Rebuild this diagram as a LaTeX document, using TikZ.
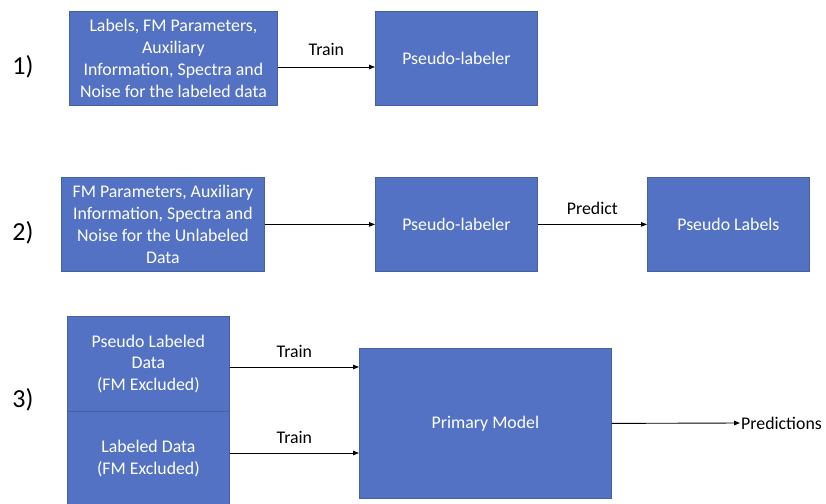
\documentclass[tikz,border=0pt]{standalone}
\usepackage{fontspec}
\setmainfont{Carlito}
\usetikzlibrary{arrows.meta}
\definecolor{boxfill}{RGB}{84,114,196}
\definecolor{boxline}{RGB}{70,96,160}
\tikzset{
  box/.style={draw=boxline, line width=0.8pt, fill=boxfill, text=white, align=center,
    anchor=north west, inner sep=0pt, font=\fontsize{17.8}{21.8}\selectfont},
  arr/.style={draw=black, line width=0.9pt, -{Triangle[length=6pt,width=4.5pt]}},
  lbl/.style={font=\fontsize{17.8}{21}\selectfont, text=black},
  num/.style={font=\fontsize{26}{30}\selectfont, text=black},
}
\begin{document}
\begin{tikzpicture}[x=1pt,y=-1pt]
\useasboundingbox (0,0) rectangle (826,503);
% row 1
\node[box, minimum width=208pt, minimum height=94pt] (a1) at (69,11)
  {Labels, FM Parameters,\\Auxiliary\\Information, Spectra and\\Noise for the labeled data};
\node[box, minimum width=162pt, minimum height=94pt] (p1) at (375,11) {Pseudo-labeler};
\coordinate (r1) at (0,67);
\draw[arr] (a1.east |- r1) -- node[lbl, above=8pt] {Train} (p1.west |- r1);
\node[num] (n1) at (23,67) {1)};
% row 2
\node[box, minimum width=203pt, minimum height=94pt] (a2) at (61,177)
  {FM Parameters, Auxiliary\\Information, Spectra and\\Noise for the Unlabeled\\Data};
\node[box, minimum width=162pt, minimum height=94pt] (p2) at (375,177) {Pseudo-labeler};
\node[box, minimum width=162pt, minimum height=94pt] (l2) at (647,177) {Pseudo Labels};
\draw[arr] (a2.east) -- (p2.west);
\draw[arr] (p2.east) -- node[lbl, above=6pt] {Predict} (l2.west);
\node[num] (n2) at (23,233) {2)};
% row 3
\node[box, minimum width=162pt, minimum height=95pt] (a3) at (67,316)
  {Pseudo Labeled\\Data\\(FM Excluded)};
\node[box, minimum width=162pt, minimum height=94pt] (b3) at (67,411)
  {Labeled Data\\(FM Excluded)};
\node[box, minimum width=252pt, minimum height=150pt] (m3) at (359,348) {Primary Model};
\coordinate (r3a) at (0,367);
\coordinate (r3b) at (0,453);
\draw[arr] (a3.east |- r3a) -- node[lbl, above=6pt] {Train} (m3.west |- r3a);
\draw[arr] (b3.east |- r3b) -- node[lbl, above=6pt] {Train} (m3.west |- r3b);
\node[lbl, anchor=west, inner sep=1pt] (pr) at (740,423) {Predictions};
\draw[arr] (m3.east) -- (pr.west);
\node[num] (n3) at (23,400) {3)};
\end{tikzpicture}
\end{document}
